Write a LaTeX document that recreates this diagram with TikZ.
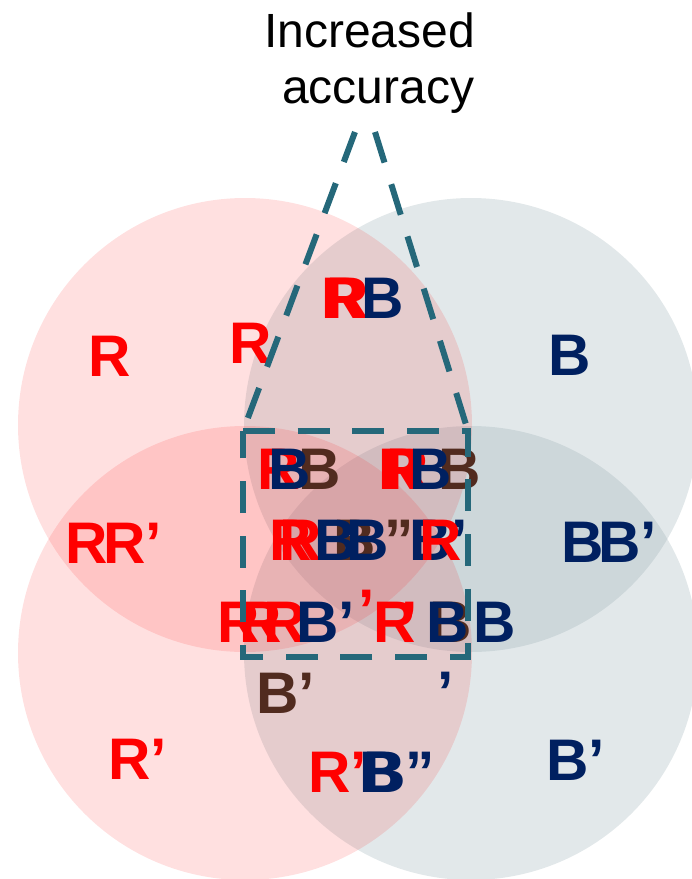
\documentclass[tikz,border=0pt]{standalone}
\usepackage{fontspec}
\setmainfont{Liberation Sans}
\definecolor{rred}{HTML}{FF0000}
\definecolor{bnavy}{HTML}{002060}
\definecolor{bbrown}{HTML}{512B1F}
\definecolor{tealdash}{HTML}{25687A}
\definecolor{gcirc}{RGB}{135,159,167}
\begin{document}
\begin{tikzpicture}[x=0.75pt,y=-0.75pt,
  lab/.style={anchor=base west,inner sep=0pt,outer sep=0pt,font=\bfseries\fontsize{44}{44}\selectfont},
  rl/.style={lab,text=rred},
  nl/.style={lab,text=bnavy},
  bl/.style={lab,text=bbrown},
  title/.style={anchor=base west,inner sep=0pt,outer sep=0pt,font=\fontsize{36}{43}\selectfont,text=black},
  redcirc/.style={fill=red,fill opacity=0.12,draw=none},
  graycirc/.style={fill=gcirc,fill opacity=0.24,draw=none},
  dashline/.style={draw=tealdash,line width=4.5pt,dash pattern=on 24pt off 17pt}]
\useasboundingbox (0,0) rectangle (692,879);
% circles: gray first, red on top
\fill[graycirc] (471,425) circle[radius=170.25pt];
\fill[graycirc] (471,653) circle[radius=170.25pt];
\fill[redcirc] (245,425) circle[radius=170.25pt];
\fill[redcirc] (245,653) circle[radius=170.25pt];
% title
\node[title] (t1) at (264,47) {Increased};
\node[title] (t2) at (282,103) {accuracy};
% brown labels
\node[bl] (b1) at (298,489) {B};
\node[bl] (b2) at (438,489) {B};
\node[bl] (b3) at (333,560) {B};
\node[bl] (b4) at (384,560) {”};
\node[bl] (b5) at (429,642) {B};
\node[bl] (b6) at (256,713) {B’};
% red labels
\node[rl] (r1) at (88,376) {R};
\node[rl] (r2) at (229,363) {R};
\node[rl] (r3) at (321,318) {R};
\node[rl] (r4) at (326,318) {R};
\node[rl] (r5) at (65,563) {R};
\node[rl] (r6) at (103,563) {R’};
\node[rl] (r7) at (108,779) {R’};
\node[rl] (r8) at (308,792) {R’};
\node[rl] (r9) at (257,489) {R};
\node[rl] (r10) at (378,489) {R};
\node[rl] (r11) at (386,489) {R};
\node[rl] (r12) at (269,560) {R};
\node[rl] (r13) at (279,560) {R};
\node[rl] (r14) at (217,642) {R};
\node[rl] (r15) at (239,642) {R};
\node[rl] (r16) at (263,642) {R};
\node[rl] (r17) at (358,630) {’};
\node[rl] (r18) at (373,642) {R};
\node[rl] (r19) at (401,642) {’};
% navy labels
\node[nl] (n1) at (361,318) {B};
\node[nl] (n2) at (548,375) {B};
\node[nl] (n3) at (561,562) {B};
\node[nl] (n4) at (598,562) {B’};
\node[nl] (n5) at (546,780) {B’};
\node[nl] (n6) at (359,792) {B};
\node[nl] (n7) at (363,792) {B”};
\node[nl] (n8) at (268,489) {B};
\node[nl] (n9) at (409,489) {B};
\node[nl] (n10) at (314,560) {B};
\node[nl] (n11) at (346,560) {B};
\node[nl] (n12) at (409,560) {B’};
\node[nl] (n13) at (296,642) {B’};
\node[nl] (n14) at (426,642) {B};
\node[nl] (n15) at (473,642) {B};
\node[nl] (n16) at (437,712) {’};
% red on top
\node[rl] (r20) at (419,560) {R};
% dashed outline
\coordinate (apL) at (355,132);
\coordinate (apR) at (375,132);
\coordinate (tl) at (243,431);
\coordinate (tr) at (468,431);
\coordinate (bl) at (243,657);
\coordinate (br) at (468,657);
\draw[dashline] (apL) -- (tl);
\draw[dashline] (apR) -- (tr);
\draw[dashline] (tl) -- (tr) -- (br) -- (bl) -- cycle;
\end{tikzpicture}
\end{document}
